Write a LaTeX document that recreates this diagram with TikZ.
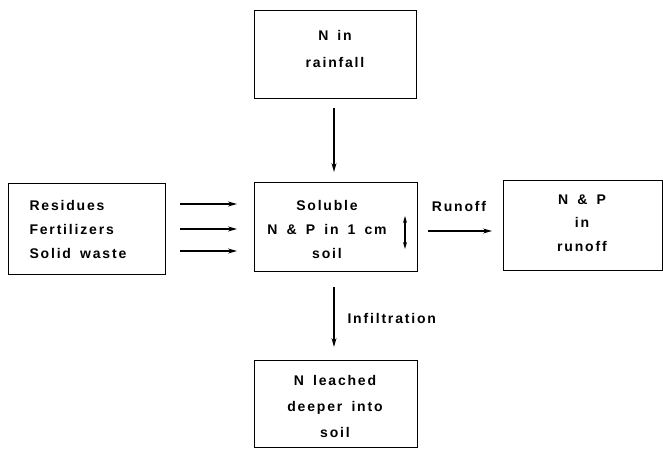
\documentclass[tikz,border=0pt]{standalone}
\usepackage{fontspec}
\setmainfont[LetterSpace=13,WordSpace=1.6]{Liberation Sans}
\usetikzlibrary{arrows.meta}
\begin{document}
\begin{tikzpicture}[x=1pt,y=-1pt,
  box/.style={draw,line width=1.4pt,minimum width=162pt,minimum height=88pt,anchor=north west,inner sep=0pt},
  txt/.style={font=\fontsize{14}{24}\selectfont\bfseries,align=center},
  arr/.style={line width=1.2pt,-{Stealth[length=9pt,width=5pt]}}]
\useasboundingbox (0,0) rectangle (663,449);
% boxes
\node[box] (rain) at (254,10) {};
\node[txt,font=\fontsize{14}{27}\selectfont\bfseries] (raint) at (335,49) {N in\\rainfall};
\node[box,minimum width=157pt,minimum height=91pt] (src) at (8,183) {};
\node[txt,align=left,anchor=west] (srct) at (26,229) {Residues\\Fertilizers\\Solid waste};
\node[box,minimum width=163pt,minimum height=89pt] (sol) at (254,182) {};
\node[txt] (solt) at (327,229) {Soluble\\N \& P in 1 cm\\soil};
\node[box,minimum width=159pt,minimum height=90pt] (run) at (503,180) {};
\node[txt,font=\fontsize{14}{23.5}\selectfont\bfseries] (runt) at (582,223) {N \& P\\in\\runoff};
\node[box,minimum width=163pt,minimum height=87pt] (leach) at (254,360) {};
\node[txt,font=\fontsize{14}{26}\selectfont\bfseries] (leacht) at (335,406) {N leached\\deeper into\\soil};
% connectors
\coordinate (r1) at (334,108); \coordinate (r2) at (334,172);
\draw[arr] (r1) -- (r2);
\foreach \yy/\nm in {204/a,229/b,251/c}{
  \coordinate (s\nm1) at (180,\yy); \coordinate (s\nm2) at (237,\yy);
  \draw[arr] (s\nm1) -- (s\nm2);
}
\coordinate (d1) at (405,216); \coordinate (d2) at (405,249);
\draw[line width=1.2pt,{Stealth[length=7pt,width=4pt]}-{Stealth[length=7pt,width=4pt]}] (d1) -- (d2);
\coordinate (o1) at (428,231); \coordinate (o2) at (492,231);
\draw[arr] (o1) -- (o2);
\node[txt] (rlab) at (459,206) {Runoff};
\coordinate (i1) at (334,287); \coordinate (i2) at (334,347);
\draw[arr] (i1) -- (i2);
\node[txt,anchor=west] (ilab) at (344,318) {Infiltration};
\end{tikzpicture}
\end{document}
